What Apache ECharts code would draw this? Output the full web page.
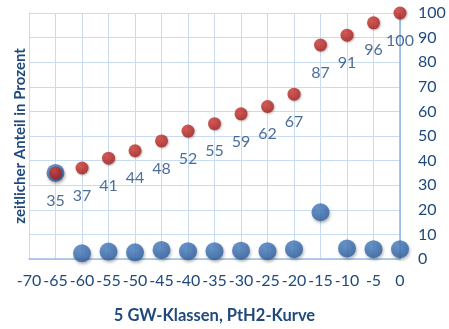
<!DOCTYPE html>
<html>
<head>
<meta charset="utf-8">
<script src="https://cdn.jsdelivr.net/npm/echarts@6/dist/echarts.min.js"></script>
<style>
  html, body { margin: 0; padding: 0; background: #fff; }
  #chart { width: 449px; height: 329px; }
</style>
</head>
<body>
<div id="chart"></div>
<script>
// GW classes (x positions) and the two point series
const classes = [-65, -60, -55, -50, -45, -40, -35, -30, -25, -20, -15, -10, -5, 0];
const cumulative = [35, 37, 41, 44, 48, 52, 55, 59, 62, 67, 87, 91, 96, 100];
const share = [35, 2.3, 3.0, 2.7, 3.7, 3.2, 3.2, 3.4, 3.2, 4.0, 19, 4.3, 4.0, 4.0];
const xTicks = { min: -70, max: 0, step: 5 };
const yTicks = { min: 0, max: 100, step: 10 };

const textColor = '#1F497D';
const gridColor = '#C9DBF2';
const font = 'Lato, "Open Sans", sans-serif';

const toPoints = (vals) => classes.map((x, i) => [x, vals[i]]);

const blueFill = {
  type: 'radial', x: 0.4, y: 0.35, r: 0.7,
  colorStops: [{ offset: 0, color: '#4F86C9' }, { offset: 1, color: '#2A5C9E' }]
};
const redFill = {
  type: 'radial', x: 0.4, y: 0.35, r: 0.7,
  colorStops: [{ offset: 0, color: '#D9403A' }, { offset: 1, color: '#A51D1B' }]
};

const chart = echarts.init(document.getElementById('chart'));
chart.setOption({
  animation: false,
  grid: { left: 29, right: 49, top: 13, bottom: 70, containLabel: false },
  xAxis: {
    type: 'value', min: xTicks.min, max: xTicks.max, interval: xTicks.step,
    name: '5 GW-Klassen, PtH2-Kurve', nameLocation: 'middle', nameGap: 48,
    nameTextStyle: { color: textColor, fontFamily: font, fontWeight: 'bold', fontSize: 16.5 },
    axisLine: { show: true, lineStyle: { color: '#9CBFE6', width: 1.5 } },
    axisTick: { show: false },
    axisLabel: { color: textColor, fontFamily: font, fontSize: 16, margin: 14 },
    splitLine: { show: true, lineStyle: { color: gridColor, width: 1 } }
  },
  yAxis: [{
    type: 'value', position: 'right', min: yTicks.min, max: yTicks.max, interval: yTicks.step,
    axisLine: { show: true, lineStyle: { color: '#8DB3E2', width: 1.5 } },
    axisTick: { show: false },
    axisLabel: { color: textColor, fontFamily: font, fontSize: 16, margin: 18 },
    splitLine: { show: true, lineStyle: { color: gridColor, width: 1 } }
  }, {
    type: 'value', position: 'left', min: yTicks.min, max: yTicks.max,
    name: 'zeitlicher Anteil in Prozent', nameLocation: 'middle', nameGap: 1,
    nameRotate: 90,
    nameTextStyle: { color: textColor, fontFamily: font, fontWeight: 'bold', fontSize: 15 },
    axisLine: { show: true, lineStyle: { color: gridColor, width: 1 } },
    axisTick: { show: false }, axisLabel: { show: false }, splitLine: { show: false }
  }],
  series: [{
    type: 'scatter', data: toPoints(share), symbolSize: 18,
    itemStyle: { color: blueFill, shadowColor: 'rgba(0,0,0,0.35)', shadowBlur: 3, shadowOffsetX: 1, shadowOffsetY: 2 },
    z: 2
  }, {
    type: 'scatter', data: toPoints(cumulative), symbolSize: 13,
    itemStyle: { color: redFill, shadowColor: 'rgba(0,0,0,0.35)', shadowBlur: 2, shadowOffsetX: 1, shadowOffsetY: 1 },
    label: {
      show: true, position: 'bottom', distance: 13,
      formatter: (p) => p.value[1],
      color: textColor, fontFamily: font, fontSize: 16
    },
    z: 3
  }]
});
</script>
</body>
</html>
